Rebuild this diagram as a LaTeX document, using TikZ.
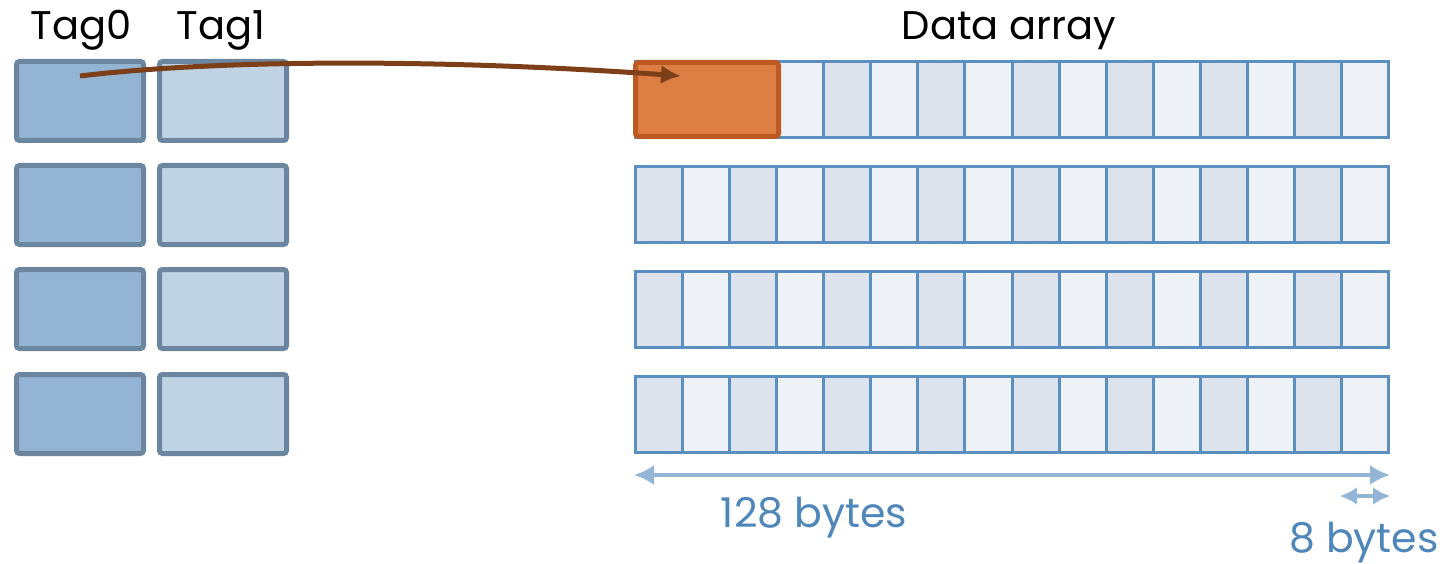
\documentclass[tikz,border=0pt]{standalone}
\usepackage{fontspec}
\setmainfont{Poppins}
\usetikzlibrary{arrows.meta,calc}
\definecolor{tagdark}{HTML}{93B4D3}
\definecolor{taglight}{HTML}{C0D3E5}
\definecolor{tagline}{HTML}{6B869E}
\definecolor{celldark}{HTML}{DCE3EC}
\definecolor{celllight}{HTML}{EEF1F6}
\definecolor{cellline}{HTML}{5A8FBF}
\definecolor{hitfill}{HTML}{DD7F45}
\definecolor{hitline}{HTML}{BC5A22}
\definecolor{ptr}{HTML}{7C3F18}
\definecolor{dim}{HTML}{93B5D6}
\definecolor{dimtext}{HTML}{4F87BA}
\tikzset{
  tagbox/.style={draw=tagline, line width=5pt, rounded corners=3pt,
    minimum width=127pt, minimum height=79pt, inner sep=0pt},
  cellbox/.style={draw=cellline, line width=3pt,
    minimum width=47.06pt, minimum height=76pt, inner sep=0pt},
  hitbox/.style={draw=hitline, fill=hitfill, line width=5pt, rounded corners=3pt,
    minimum width=143pt, minimum height=74pt, inner sep=0pt},
  txtlabel/.style={font=\fontsize{40}{48}\selectfont, anchor=base, inner sep=0pt},
  dimlabel/.style={txtlabel, text=dimtext, font=\fontsize{41}{48}\selectfont},
  pointer/.style={draw=ptr, line width=5pt, -{Latex[length=20pt,width=19pt]}},
  dimline/.style={draw=dim, line width=3.5pt,
    {Latex[length=20pt,width=20pt]}-{Latex[length=20pt,width=20pt]}},
  dimshort/.style={draw=dim, line width=3.5pt,
    {Latex[length=17pt,width=18pt]}-{Latex[length=17pt,width=18pt]}}
}
\begin{document}
\begin{tikzpicture}[x=1pt,y=-1pt]
\useasboundingbox (0,0) rectangle (1440,564);

% tag store: two ways, four sets
\foreach \r/\y in {1/101,2/205,3/309,4/414} {
  \node[tagbox, fill=tagdark]  (tag0-\r) at (80,\y) {};
  \node[tagbox, fill=taglight] (tag1-\r) at (223,\y) {};
}
\node[txtlabel] (t0) at (81,40) {Tag0};
\node[txtlabel] (t1) at (221,40) {Tag1};

% data array: four rows of sixteen 8-byte cells
\foreach \r/\y in {1/99.5,2/204.5,3/309.5,4/414.5} {
  \foreach \i in {0,...,15} {
    \pgfmathsetmacro\cx{635.5+47.0625*(\i+0.5)}
    \ifodd\i
      \node[cellbox, fill=celllight] (cell-\r-\i) at (\cx,\y) {};
    \else
      \node[cellbox, fill=celldark] (cell-\r-\i) at (\cx,\y) {};
    \fi
  }
}
\node[txtlabel] (da) at (1009,40) {Data array};

% highlighted block referenced by the tag
\node[hitbox] (hit) at (707,99.5) {};

% pointer from tag to data block
\coordinate (src) at ([yshift=25pt]tag0-1.center);
\coordinate (dst) at ([xshift=-26pt,yshift=23.5pt]hit.center);
\draw[pointer] (src) .. controls (230,58) and (460,60) .. (dst);

% size annotations
\coordinate (lw) at ([yshift=-21pt]cell-4-0.south west);
\coordinate (le) at ([yshift=-21pt]cell-4-15.south east);
\draw[dimline] (lw) -- (le);
\coordinate (sw) at ([yshift=-42pt]cell-4-15.south west);
\coordinate (se) at ([yshift=-42pt]cell-4-15.south east);
\draw[dimshort] (sw) -- (se);
\node[dimlabel] (big) at (814,527) {128 bytes};
\node[dimlabel] (small) at (1364,552) {8 bytes};
\end{tikzpicture}
\end{document}
